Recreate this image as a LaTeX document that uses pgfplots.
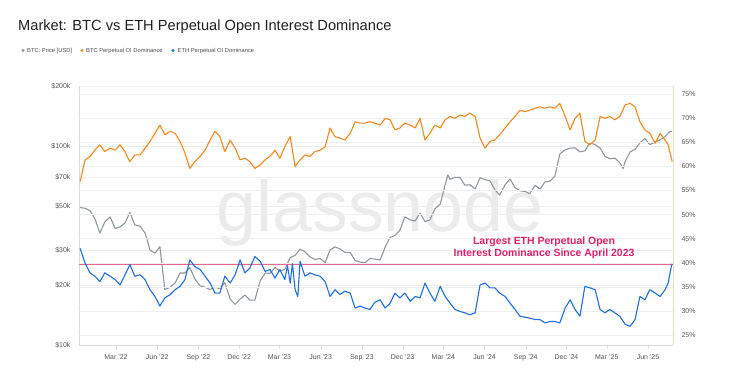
\documentclass[border=0pt]{standalone}
\usepackage{pgfplots}
\pgfplotsset{compat=1.18}
\usepackage{pgfplotstable}
\usepackage{fontspec}
\setmainfont{Liberation Sans}
\definecolor{btcgray}{RGB}{140,150,155}
\definecolor{btcorange}{RGB}{247,134,27}
\definecolor{ethblue}{RGB}{29,108,232}
\definecolor{pinkline}{RGB}{230,100,150}
\definecolor{pinktext}{RGB}{225,30,105}
\definecolor{ticktext}{RGB}{85,85,85}
\definecolor{gridc}{RGB}{238,238,238}

\pgfplotstableread{
day price
-21 49000
-10 48600
1 47300
12 43000
23 36500
34 41500
46 44000
57 38500
68 39200
79 41000
90 46300
101 40100
113 39500
124 36500
135 30000
146 28900
157 31200
168 19000
180 19500
191 20500
202 23000
213 23000
224 24500
235 21500
247 19800
258 19500
269 19000
280 19500
291 19200
302 20600
314 17000
325 16000
336 17000
347 17800
358 16800
369 16800
381 21000
392 23000
403 22900
414 24500
425 23500
436 24000
448 27500
459 28200
470 30300
481 29400
492 27700
503 26900
515 27200
526 25900
537 30000
548 31100
559 30400
570 29200
582 29100
593 26600
604 26100
615 25900
626 27200
637 27000
649 26800
660 31000
671 34700
682 35500
693 37700
704 44000
716 42500
727 42000
738 46000
749 41700
760 42500
771 48300
783 51000
794 63700
800 71500
805 68000
816 69500
827 69400
838 63500
849 63800
861 60800
872 69200
883 67700
894 66800
905 60300
916 56600
928 64000
939 68200
950 61700
961 59500
972 59100
983 57600
995 63300
1006 60700
1017 66000
1028 66600
1039 70300
1050 91000
1062 95600
1073 97400
1084 97700
1095 93400
1106 94500
1117 103700
1129 101400
1140 97500
1151 88700
1162 86200
1173 86800
1184 82400
1191 77000
1196 83400
1207 93400
1218 96100
1229 103500
1240 109000
1251 101500
1263 104600
1274 107300
1285 111300
1296 117900
1301 118000
}\pricetable

\pgfplotstableread{
day pct
-21 56.9
-10 61.4
1 62.1
12 63.4
23 64.5
34 63.1
46 63.8
57 63.4
68 64.5
79 63.1
90 61.0
101 62.4
113 62.4
124 63.8
135 65.2
146 66.9
157 68.6
168 66.6
180 67.3
191 66.9
202 65.2
213 62.8
224 59.6
235 61.0
247 62.1
258 63.4
269 65.5
280 67.3
291 66.2
302 63.1
314 65.5
325 63.8
336 61.4
347 61.7
358 61.0
369 59.6
381 60.3
392 61.4
403 62.1
414 63.4
425 61.7
436 64.1
448 66.2
459 60.0
470 61.4
481 62.4
492 62.1
503 63.1
515 63.4
526 64.1
537 68.0
548 66.2
559 65.9
570 65.5
582 66.9
593 69.3
604 69.0
615 69.0
626 69.3
637 69.0
649 68.6
660 70.0
671 69.7
682 67.6
693 68.0
704 69.0
716 68.6
727 68.0
738 70.0
749 65.5
760 66.9
771 68.6
783 68.0
794 69.7
805 70.4
816 70.0
827 70.7
838 70.4
849 71.1
861 70.4
872 65.9
883 63.8
894 65.2
905 65.5
916 66.6
928 68.0
939 69.3
950 70.4
961 71.7
972 71.4
983 71.7
995 72.1
1006 72.4
1017 72.1
1028 72.4
1039 72.1
1050 73.1
1062 70.4
1073 67.6
1084 70.0
1095 71.1
1106 65.2
1117 64.5
1129 65.5
1140 70.4
1151 70.0
1162 70.4
1173 69.7
1184 70.4
1196 72.8
1207 73.1
1218 72.4
1229 69.3
1240 67.6
1251 66.9
1263 64.8
1274 66.9
1285 65.5
1292 64.5
1301 61.0
}\btcoitable

\pgfplotstableread{
day pct
-21 43.0
-10 39.9
1 37.9
12 37.2
23 36.1
34 37.9
46 37.2
57 36.5
68 35.4
79 37.5
90 39.6
101 37.2
113 37.5
124 36.5
135 34.4
146 33.0
157 31.0
168 32.7
180 33.4
191 34.4
202 35.1
213 36.5
224 40.6
235 39.2
247 38.6
258 37.2
269 35.8
280 33.7
291 33.7
302 37.2
314 35.8
325 37.5
336 40.6
347 37.9
358 38.9
369 41.3
381 40.3
392 38.2
403 38.6
414 36.8
425 38.6
436 36.5
442 39.4
448 35.8
453 39.8
459 34.4
465 33.0
470 40.3
481 37.2
492 37.9
503 37.5
515 37.2
526 36.1
537 33.0
548 34.4
559 33.4
570 34.1
582 33.7
593 30.6
604 31.0
615 30.6
626 30.3
637 31.8
649 32.3
660 30.6
671 31.6
682 33.7
693 32.7
704 33.7
716 32.0
727 33.0
738 32.7
749 35.8
760 33.7
771 32.0
783 35.1
794 33.0
805 31.6
816 30.3
827 29.9
838 29.6
849 29.2
861 29.6
872 35.4
883 35.8
894 34.8
905 34.8
916 33.7
928 33.0
939 31.6
950 30.3
961 28.9
972 28.7
983 28.5
995 28.2
1006 28.2
1017 27.5
1028 27.8
1039 27.8
1050 27.5
1062 30.6
1073 32.3
1084 30.3
1095 28.9
1106 35.1
1117 34.8
1129 34.4
1140 30.3
1151 29.6
1162 30.3
1173 29.6
1184 28.9
1196 27.2
1207 26.8
1218 28.2
1229 33.0
1240 32.3
1251 34.4
1263 33.7
1274 33.0
1285 34.4
1292 35.8
1299 39.2
1301 39.8
}\ethoitable

\begin{document}
\begin{tikzpicture}
\path[use as bounding box] (0bp,0bp) rectangle (752bp,382bp);
% watermark
\node[text=black!8, font=\fontsize{72}{72}\selectfont, anchor=base] at (380bp,150bp) {glassnode};
% title
\node[anchor=base west, text=black!88, font=\fontsize{14.7}{17}\selectfont, inner sep=0] at (18bp,351bp) {Market: BTC vs ETH Perpetual Open Interest Dominance};
% legend
\fill[btcgray] (23bp,331.5bp) circle (1.6bp);
\node[anchor=base west, inner sep=0, text=black!70, font=\fontsize{5.8}{7}\selectfont] at (27bp,329.5bp) {BTC: Price [USD]};
\fill[btcorange] (82bp,331.5bp) circle (1.6bp);
\node[anchor=base west, inner sep=0, text=black!70, font=\fontsize{5.8}{7}\selectfont] at (86bp,329.5bp) {BTC Perpetual OI Dominance};
\fill[ethblue] (173bp,331.5bp) circle (1.6bp);
\node[anchor=base west, inner sep=0, text=black!70, font=\fontsize{5.8}{7}\selectfont] at (177.5bp,329.5bp) {ETH Perpetual OI Dominance};

\begin{axis}[
  at={(79bp,37bp)}, anchor=south west,
  scale only axis, width=594bp, height=259bp,
  xmin=-23.6, xmax=1302.8,
  ymode=log, ymin=10000, ymax=200000,
  axis y line*=left, axis x line*=bottom,
  axis line style={draw=black!15},
  xtick={59,151,243,334,424,516,608,699,790,882,974,1065,1155,1247},
  xticklabels={Mar '22,Jun '22,Sep '22,Dec '22,Mar '23,Jun '23,Sep '23,Dec '23,Mar '24,Jun '24,Sep '24,Dec '24,Mar '25,Jun '25},
  xtick align=outside,
  x tick style={draw=black!15},
  major tick length=4bp,
  ytick={10000,20000,30000,50000,70000,100000,200000},
  yticklabels={\$10k,\$20k,\$30k,\$50k,\$70k,\$100k,\$200k},
  y tick style={draw=none},
  ymajorgrids, grid style={draw=gridc, line width=0.5pt},
  minor ytick={}, yminorgrids=false,
  /pgf/number format/assume math mode=true,
  tick label style={font=\fontsize{7}{8}\selectfont, text=ticktext},
  yticklabel shift=5bp,
  xticklabel shift=2bp,
  clip=false,
]
\addplot[btcgray, line width=1.1pt, line join=round] table[x=day, y=price] {\pricetable};
\end{axis}

\begin{axis}[
  at={(79bp,37bp)}, anchor=south west,
  scale only axis, width=594bp, height=259bp,
  xmin=-23.6, xmax=1302.8,
  ymin=22.92, ymax=76.72,
  axis y line*=right, axis x line=none,
  axis line style={draw={rgb,255:red,232;green,220;blue,200}},
  ytick={25,30,35,40,45,50,55,60,65,70,75},
  yticklabels={25\%,30\%,35\%,40\%,45\%,50\%,55\%,60\%,65\%,70\%,75\%},
  y tick style={draw=none},
  ymajorgrids, grid style={draw=gridc, line width=0.5pt},
  /pgf/number format/assume math mode=true,
  tick label style={font=\fontsize{7}{8}\selectfont, text=ticktext},
  yticklabel shift=5bp,
  clip=false,
]
\addplot[btcorange, line width=1.1pt, line join=round] table[x=day, y=pct] {\btcoitable};
\addplot[pinkline, line width=0.8pt] coordinates {(-23.6,39.6) (1302.8,39.6)};
\addplot[ethblue, line width=1.1pt, line join=round] table[x=day, y=pct] {\ethoitable};
\end{axis}

\node[align=center, text=pinktext, font=\bfseries\fontsize{10.5}{12.6}\selectfont, inner sep=0] at (544bp,134bp) {Largest ETH Perpetual Open\\Interest Dominance Since April 2023};
\end{tikzpicture}
\end{document}
